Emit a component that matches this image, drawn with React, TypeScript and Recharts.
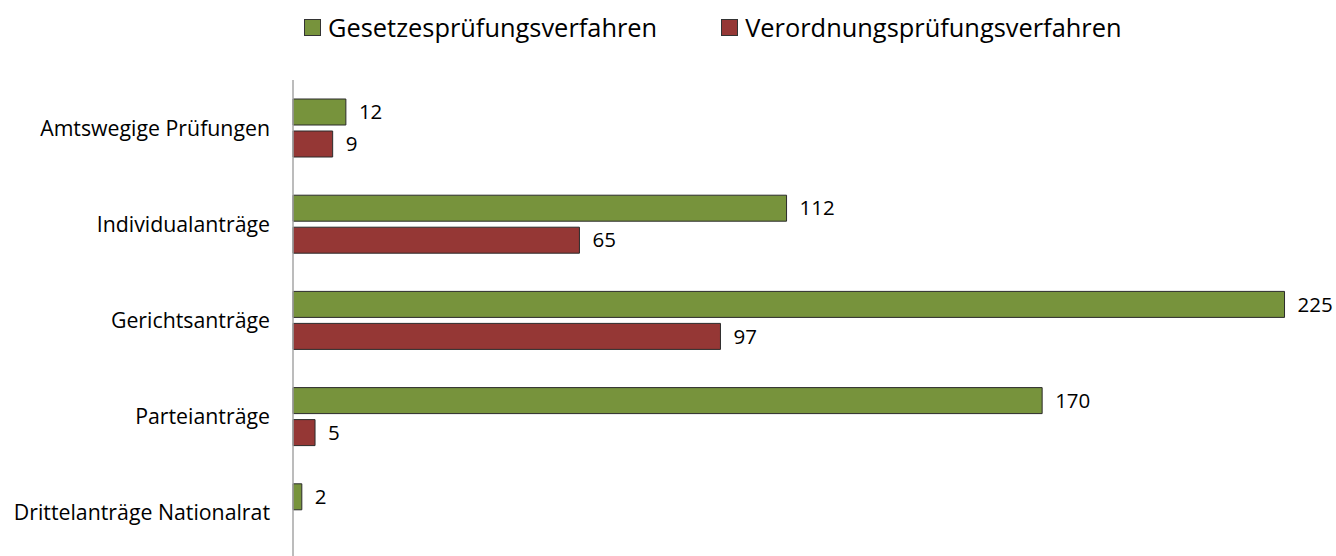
import { Bar, BarChart, LabelList, Legend, XAxis, YAxis } from "recharts";

const categories = [
  "Amtswegige Prüfungen",
  "Individualanträge",
  "Gerichtsanträge",
  "Parteianträge",
  "Drittelanträge Nationalrat",
];
const gesetzValues = [12, 112, 225, 170, 2];
const verordnungValues: Array<number | null> = [9, 65, 97, 5, null];

const seriesInfo = [
  { key: "gesetz", label: "Gesetzesprüfungsverfahren", color: "#77933C" },
  { key: "verordnung", label: "Verordnungsprüfungsverfahren", color: "#953735" },
];

const data = categories.map((name, i) => ({
  name,
  gesetz: gesetzValues[i],
  verordnung: verordnungValues[i],
}));

const font = "'Open Sans', Lato, sans-serif";

function LegendContent() {
  return (
    <div style={{ display: "flex", height: 40, alignItems: "center", paddingLeft: 304, fontFamily: font, fontSize: 25.4, color: "#000" }}>
      {seriesInfo.map((s, i) => (
        <div key={s.key} style={{ display: "flex", alignItems: "center", marginRight: i === 0 ? 64 : 0 }}>
          <span style={{ width: 15, height: 15, background: s.color, border: "1px solid #333", marginRight: 7 }} />
          <span>{s.label}</span>
        </div>
      ))}
    </div>
  );
}

export default function App() {
  return (
    <div style={{ width: 1336, height: 556, background: "#fff", overflow: "hidden" }}>
      <style>{`body{margin:0;overflow:hidden}`}</style>
      <BarChart
        width={1336}
        height={561}
        data={data}
        layout="vertical"
        margin={{ top: 40, right: 3, bottom: 0, left: 0 }}
        barSize={26}
        barGap={6}
      >
        <Legend verticalAlign="top" wrapperStyle={{ top: 7, left: 0, width: 1336 }} content={() => <LegendContent />} />
        <XAxis type="number" domain={[0, 236]} hide />
        <YAxis
          type="category"
          dataKey="name"
          width={293}
          tickLine={false}
          tickSize={0}
          tickMargin={23}
          axisLine={{ stroke: "#a6a6a6", strokeWidth: 1.5 }}
          tick={{ fontSize: 21.3, fill: "#000", fontFamily: font }}
        />
        {seriesInfo.map((s) => (
          <Bar key={s.key} dataKey={s.key} name={s.label} fill={s.color} stroke="#2b2b2b" strokeWidth={1} isAnimationActive={false}>
            <LabelList dataKey={s.key} position="right" offset={13} style={{ fontSize: 20.5, fill: "#000", fontFamily: font }} />
          </Bar>
        ))}
      </BarChart>
    </div>
  );
}
